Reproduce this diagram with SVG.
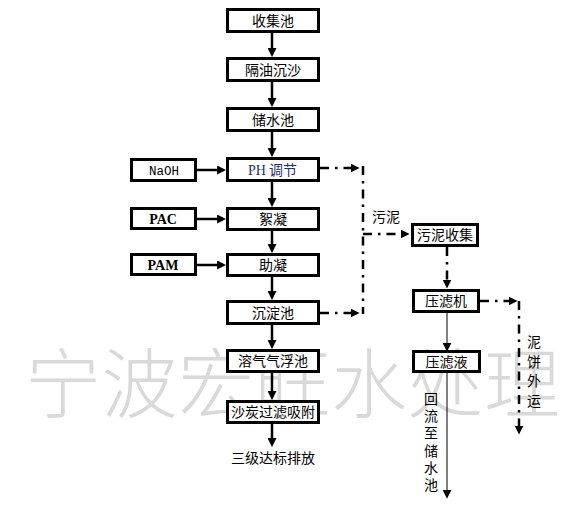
<svg xmlns="http://www.w3.org/2000/svg" width="577" height="509" viewBox="0 0 577 509">
<style>
.wm{font-family:"Noto Sans CJK SC",sans-serif;font-size:76px;font-weight:200;fill:#d9d9d9}
.box{fill:#fff;stroke:#000;stroke-width:3}
.t{font-family:"Noto Sans CJK SC",sans-serif;font-size:14px;fill:#000;text-anchor:middle}
.tl{font-family:"Noto Sans CJK SC",sans-serif;font-size:14px;fill:#000}
.lat{font-family:"Liberation Serif",serif;font-size:14px;font-weight:bold;fill:#000;text-anchor:middle}
.mono{font-family:"Liberation Mono",monospace;font-size:12.5px;fill:#000;text-anchor:middle}
.main{stroke:#000;stroke-width:2.5;fill:none;marker-end:url(#ah)}
.dd{stroke:#000;stroke-width:2.5;fill:none;stroke-dasharray:9 6 2.5 6}
.dda{stroke:#000;stroke-width:2.5;fill:none;stroke-dasharray:9 6 2.5 6;marker-end:url(#ah)}
.thin{stroke:#000;stroke-width:1;fill:none;marker-end:url(#ahs)}
</style>
<defs>
<marker id="ah" viewBox="0 0 10 10" refX="6" refY="5" markerWidth="9" markerHeight="9" markerUnits="userSpaceOnUse" orient="auto">
<path d="M0,0 L10,5 L0,10 z" fill="#000"/>
</marker>
<marker id="ahs" viewBox="0 0 10 10" refX="8" refY="5" markerWidth="9" markerHeight="9" markerUnits="userSpaceOnUse" orient="auto">
<path d="M0,0 L10,5 L0,10 z" fill="#000"/>
</marker>
</defs>
<rect width="577" height="509" fill="#fff"/>
<text class="wm" x="25" y="412" textLength="535" lengthAdjust="spacing">宁波宏旺水处理</text>

<g id="connectors">
<path class="main" d="M272,33 V53.5"/>
<path class="main" d="M272,82 V103.5"/>
<path class="main" d="M272,132 V153.5"/>
<path class="main" d="M272,182 V203.5"/>
<path class="main" d="M272,231 V249.5"/>
<path class="main" d="M272,277 V296.5"/>
<path class="main" d="M272,325 V345.5"/>
<path class="main" d="M272,373 V396.5"/>
<path class="main" d="M272,424 V443.5"/>
<path class="main" d="M197,170 H222.5"/>
<path class="main" d="M197,219 H222.5"/>
<path class="main" d="M197,265 H222.5"/>
<path class="dda" d="M320,168 H356"/>
<path class="dd" d="M363,166 V314"/>
<path class="dda" d="M320,313 H356"/>
<path class="dda" d="M363,234 H406"/>
<path class="dda" d="M447,247 V285"/>
<path class="dda" d="M480,301 H514"/>
<path class="dda" d="M519,301 V431"/>
<path class="thin" d="M447,313 V350"/>
<path class="thin" d="M447,373 V497"/>
<text class="tl" x="372" y="222">污泥</text>
<text class="tl" x="424" y="404"><tspan x="424">回</tspan><tspan x="424" dy="17.2">流</tspan><tspan x="424" dy="17.2">至</tspan><tspan x="424" dy="17.2">储</tspan><tspan x="424" dy="17.2">水</tspan><tspan x="424" dy="17.2">池</tspan></text>
<text class="tl" x="527" y="347"><tspan x="527">泥</tspan><tspan x="527" dy="19.5">饼</tspan><tspan x="527" dy="19.5">外</tspan><tspan x="527" dy="19.5">运</tspan></text>
</g>

<g id="n1"><rect class="box" x="227.5" y="9.5" width="91" height="22"/><text class="t" x="273" y="25.5">收集池</text></g>
<g id="n2"><rect class="box" x="227.5" y="58.5" width="91" height="22"/><text class="t" x="273" y="74.5">隔油沉沙</text></g>
<g id="n3"><rect class="box" x="227.5" y="108.5" width="91" height="22"/><text class="t" x="273" y="124.5">储水池</text></g>
<g id="n4"><rect class="box" x="227.5" y="158.5" width="91" height="22"/><text x="248" y="175"><tspan style="font-family:'Liberation Serif',serif;font-size:14px;fill:#1f2f6f">PH</tspan><tspan style="font-family:'Noto Sans CJK SC',sans-serif;font-size:14px;fill:#1f2f6f" dx="3">调节</tspan></text></g>
<g id="n5"><rect class="box" x="227.5" y="208.5" width="91" height="21"/><text class="t" x="273" y="224">絮凝</text></g>
<g id="n6"><rect class="box" x="227.5" y="254.5" width="91" height="21"/><text class="t" x="273" y="270">助凝</text></g>
<g id="n7"><rect class="box" x="227.5" y="301.5" width="91" height="22"/><text class="t" x="273" y="317.5">沉淀池</text></g>
<g id="n8"><rect class="box" x="227.5" y="350.5" width="91" height="21"/><text class="t" x="273" y="366">溶气气浮池</text></g>
<g id="n9"><rect class="box" x="227.5" y="401.5" width="91" height="21"/><text class="t" x="273" y="417">沙炭过滤吸附</text></g>
<g id="n10"><text class="t" x="273" y="463">三级达标排放</text></g>
<g id="naoh"><rect class="box" x="131.5" y="159.5" width="64" height="21"/><text class="mono" x="164" y="174.5">NaOH</text></g>
<g id="pac"><rect class="box" x="131.5" y="208.5" width="64" height="20"/><text class="lat" x="163" y="223.5">PAC</text></g>
<g id="pam"><rect class="box" x="131.5" y="254.5" width="64" height="20"/><text class="lat" x="163" y="269.5">PAM</text></g>
<g id="sludge"><rect class="box" x="412.5" y="224.5" width="65" height="21"/><text class="t" x="445" y="240">污泥收集</text></g>
<g id="press"><rect class="box" x="413.5" y="290.5" width="65" height="21"/><text class="t" x="446" y="306">压滤机</text></g>
<g id="filtrate"><rect class="box" x="413.5" y="351.5" width="66" height="20"/><text class="t" x="446.5" y="366.5">压滤液</text></g>
</svg>
